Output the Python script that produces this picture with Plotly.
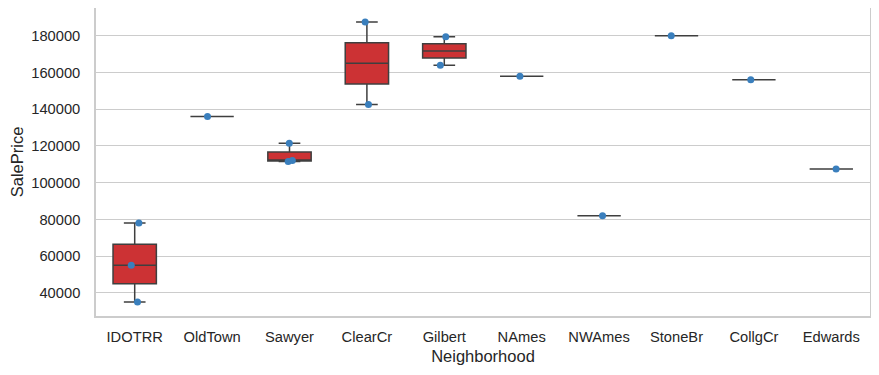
import numpy as np
import plotly.graph_objects as go

# ---- data ----
categories = ["IDOTRR", "OldTown", "Sawyer", "ClearCr", "Gilbert",
              "NAmes", "NWAmes", "StoneBr", "CollgCr", "Edwards"]
point_neighborhood = ["IDOTRR", "IDOTRR", "IDOTRR",
                      "OldTown",
                      "Sawyer", "Sawyer", "Sawyer",
                      "ClearCr", "ClearCr",
                      "Gilbert", "Gilbert",
                      "NAmes", "NWAmes", "StoneBr", "CollgCr", "Edwards"]
point_price = [35000, 55000, 78000,
               136000,
               111500, 112000, 121500,
               142500, 187500,
               164000, 179500,
               157900, 82000, 180000, 156000, 107500]
y_ticks = [40000, 60000, 80000, 100000, 120000, 140000, 160000, 180000]

# ---- box statistics (seaborn / numpy style) ----
q1s, meds, q3s, lows, highs = [], [], [], [], []
for c in categories:
    v = np.array([p for n, p in zip(point_neighborhood, point_price) if n == c], dtype=float)
    q1, med, q3 = np.percentile(v, [25, 50, 75])
    iqr = q3 - q1
    lo = v[v >= q1 - 1.5 * iqr].min()
    hi = v[v <= q3 + 1.5 * iqr].max()
    q1s.append(q1); meds.append(med); q3s.append(q3); lows.append(lo); highs.append(hi)

BOX_FILL = "#cc3234"
LINE = "#3f3f3f"
POINT = "#3a7fbd"
GRID = "#cccccc"
TXT = "#262626"
FONT = "Liberation Sans, Arial, sans-serif"

fig = go.Figure()
fig.add_trace(go.Box(
    x=categories, q1=q1s, median=meds, q3=q3s,
    lowerfence=lows, upperfence=highs,
    fillcolor=BOX_FILL, line=dict(color=LINE, width=1.5),
    whiskerwidth=0.5, boxpoints=False, showlegend=False, hoverinfo="skip",
))
fig.add_trace(go.Box(
    x=point_neighborhood, y=point_price,
    boxpoints="all", jitter=0.25, pointpos=0,
    fillcolor="rgba(0,0,0,0)", line=dict(color="rgba(0,0,0,0)", width=0),
    marker=dict(color=POINT, size=7),
    whiskerwidth=0, showlegend=False,
))

lo_all, hi_all = min(point_price), max(point_price)
span = hi_all - lo_all

# page body has an 8px default margin, so the figure is sized to fit the window
fig.update_layout(
    width=871, height=367,
    margin=dict(l=88, r=9, t=0, b=59),
    paper_bgcolor="white", plot_bgcolor="white",
    boxgap=0.2, boxmode="overlay",
    font=dict(family=FONT, color=TXT, size=14.7),
    showlegend=False,
)
fig.update_xaxes(
    type="category", categoryorder="array", categoryarray=categories,
    range=[-0.5, len(categories) - 0.5], automargin=False,
    showline=True, mirror=True, linecolor=GRID, linewidth=1.5,
    showgrid=False, zeroline=False, ticks="",
    ticklabelstandoff=7,
    tickfont=dict(size=14.7, color=TXT),
    title=dict(text="Neighborhood", font=dict(size=16.5, color=TXT), standoff=6),
)
fig.update_yaxes(
    range=[lo_all - 0.05 * span, hi_all + 0.05 * span], automargin=False,
    tickvals=y_ticks, tickformat="d",
    showline=True, mirror=True, linecolor=GRID, linewidth=1.5,
    showgrid=True, gridcolor=GRID, gridwidth=1.2, zeroline=False, ticks="",
    ticklabelstandoff=11,
    tickfont=dict(size=14.7, color=TXT),
    title=dict(text="SalePrice", font=dict(size=16.5, color=TXT), standoff=4),
)

fig.write_html("out.html")
